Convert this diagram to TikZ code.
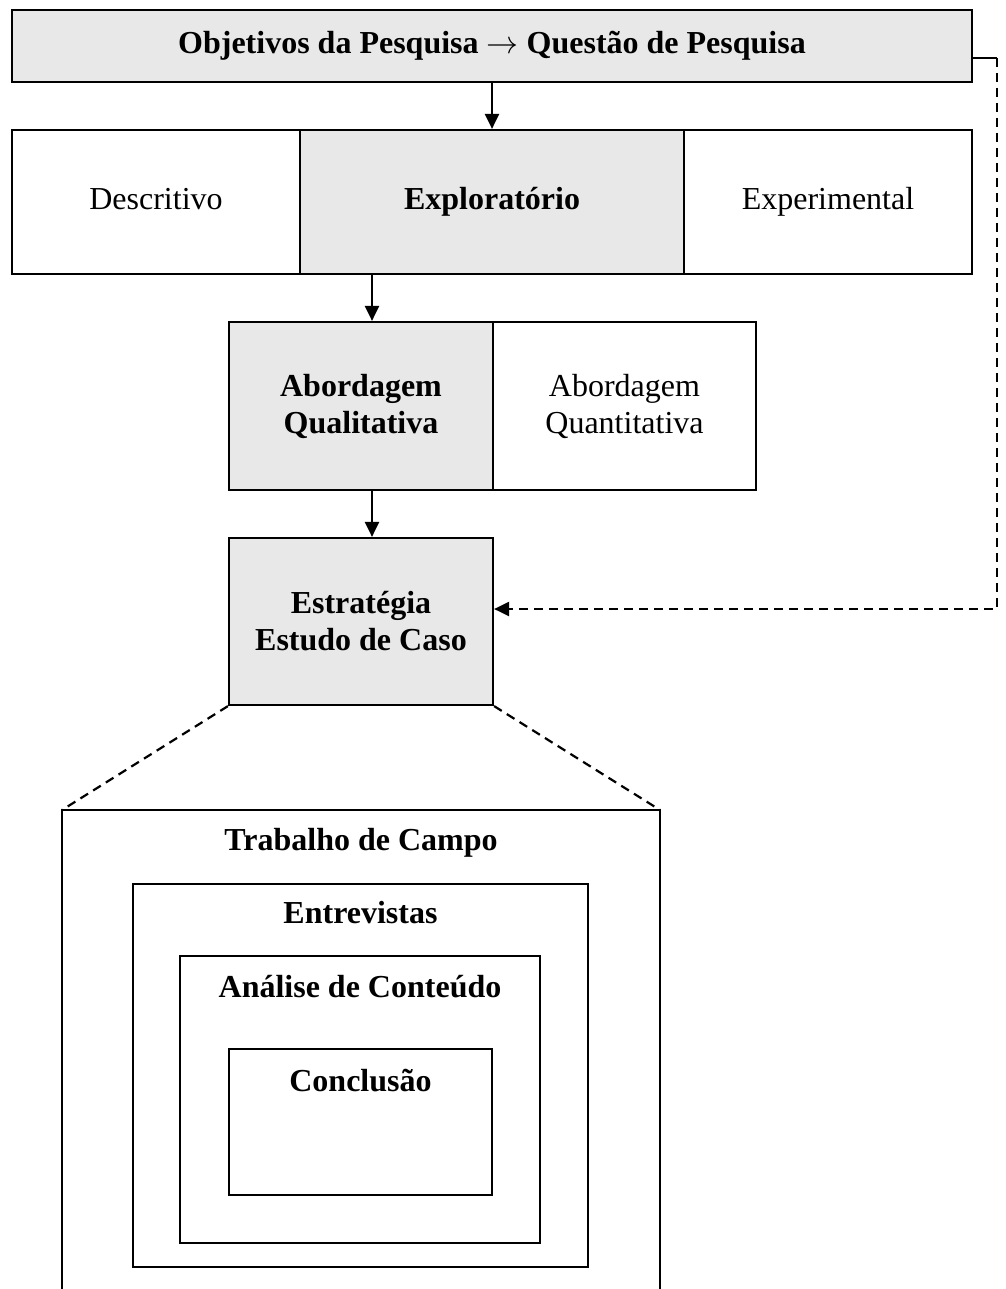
\RequirePackage{fix-cm}
\documentclass[tikz,border=0pt]{standalone}
\usepackage{fontspec}
\setmainfont{Liberation Serif}
\usetikzlibrary{arrows.meta}
\definecolor{boxgray}{HTML}{E8E8E8}
\tikzset{
  box/.style={draw, line width=2.2pt, inner sep=0pt, align=center, font=\fontsize{32}{37}\selectfont},
  graybox/.style={box, fill=boxgray, font=\fontsize{32}{37}\selectfont\bfseries},
  lbl/.style={inner sep=0pt, font=\fontsize{32}{37}\selectfont\bfseries},
  oneline/.style={text height=22pt, text depth=7pt},
  arr/.style={line width=2.2pt, -{Triangle[length=15pt,width=14pt]}},
  dsh/.style={line width=2.2pt, dash pattern=on 9pt off 6pt},
}
\begin{document}
\begin{tikzpicture}[x=1pt,y=-1pt]
\useasboundingbox (0,0) rectangle (1005,1289);
% top
\node[graybox, oneline, minimum width=960pt, minimum height=72pt] (topbox) at (492,46) {Objetivos da Pesquisa $\rightarrow$ Questão de Pesquisa};
% row 2
\node[box, oneline, minimum width=288pt, minimum height=144pt] (desc) at (156,202) {Descritivo};
\node[graybox, oneline, minimum width=384pt, minimum height=144pt] (expl) at (492,202) {Exploratório};
\node[box, oneline, minimum width=288pt, minimum height=144pt] (expe) at (828,202) {Experimental};
% row 3
\node[graybox, minimum width=264pt, minimum height=168pt] (qual) at (361,406) {Abordagem\\Qualitativa};
\node[box, minimum width=263pt, minimum height=168pt] (quant) at (624.5,406) {Abordagem\\Quantitativa};
% row 4
\node[graybox, minimum width=264pt, minimum height=167pt] (estr) at (361,621.5) {Estratégia\\Estudo de Caso};
% nested boxes
\coordinate (tl) at (62,810);
\coordinate (tr) at (660,810);
\coordinate (bl) at (62,1292);
\coordinate (br) at (660,1292);
\draw[line width=2.2pt] (bl) -- (tl) -- (tr) -- (br);
\node[lbl] (trab) at (361,843) {Trabalho de Campo};
\node[draw, line width=2.2pt, minimum width=455pt, minimum height=383pt, inner sep=0pt] (entbox) at (360.5,1075.5) {};
\node[lbl] (ent) at (360.5,913) {Entrevistas};
\node[draw, line width=2.2pt, minimum width=360pt, minimum height=287pt, inner sep=0pt] (anbox) at (360,1099.5) {};
\node[lbl] (an) at (360,987) {Análise de Conteúdo};
\node[draw, line width=2.2pt, minimum width=263pt, minimum height=146pt, inner sep=0pt] (conbox) at (360.5,1122) {};
\node[lbl] (con) at (360.5,1081) {Conclusão};
% arrows
\draw[arr] (topbox.south) -- (expl.north);
\draw[arr] ([xshift=11pt]qual.north |- expl.south) -- ([xshift=11pt]qual.north);
\draw[arr] ([xshift=11pt]qual.south) -- ([xshift=11pt]estr.north);
% feedback
\draw[line width=2.2pt] ([yshift=-12pt]topbox.east) -- ++(24,0) coordinate (fb);
\draw[dsh, -{Triangle[length=15pt,width=14pt]}] (fb) |- ([yshift=12.5pt]estr.east);
% zoom lines
\draw[dsh] (estr.south west) -- (tl);
\draw[dsh] (estr.south east) -- (tr);
\end{tikzpicture}
\end{document}
